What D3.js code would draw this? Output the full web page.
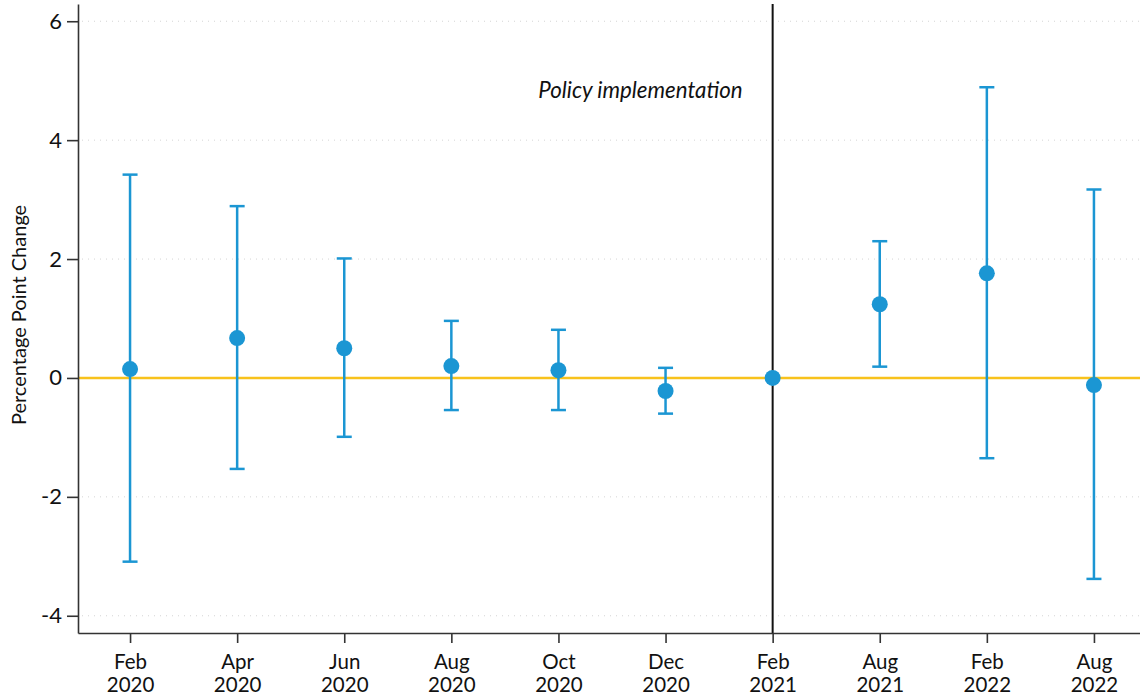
<!DOCTYPE html>
<html>
<head>
<meta charset="utf-8">
<script src="https://cdn.jsdelivr.net/npm/d3@7"></script>
<style>
  body { margin: 0; background: #fff; }
  svg text { font-family: Lato, "Open Sans", sans-serif; fill: #111; }
</style>
</head>
<body>
<div id="chart"></div>
<script>
(function () {
  // data
  const months = ["Feb", "Apr", "Jun", "Aug", "Oct", "Dec", "Feb", "Aug", "Feb", "Aug"];
  const years = ["2020", "2020", "2020", "2020", "2020", "2020", "2021", "2021", "2022", "2022"];
  const estimates = [0.15, 0.67, 0.50, 0.20, 0.13, -0.22, 0, 1.24, 1.76, -0.12];
  const upper = [3.42, 2.89, 2.01, 0.96, 0.81, 0.17, null, 2.30, 4.89, 3.17];
  const lower = [-3.09, -1.53, -0.99, -0.54, -0.54, -0.60, null, 0.19, -1.35, -3.38];
  const yTicks = [-4, -2, 0, 2, 4, 6];
  const policyIndex = 6;
  const policyLabel = "Policy implementation";

  const W = 1140, H = 698;
  const margin = {top: 4, right: 0, bottom: 65, left: 78};
  const blue = "#1b96d3";

  const svg = d3.select("#chart").append("svg")
    .attr("width", W)
    .attr("height", H);

  const x = d3.scaleLinear()
    .domain([-0.486, 9.43])
    .range([margin.left, W - margin.right]);

  const y = d3.scaleLinear()
    .domain([-4.29, 6.29])
    .range([H - margin.bottom, margin.top]);

  // grid
  svg.append("g").selectAll("line")
    .data(yTicks.filter(function (d) { return d !== 0; }))
    .join("line")
      .attr("x1", margin.left + 4)
      .attr("x2", W)
      .attr("y1", function (d) { return y(d); })
      .attr("y2", function (d) { return y(d); })
      .attr("stroke", "#d4d4d4")
      .attr("stroke-width", 1)
      .attr("stroke-dasharray", "1,5");

  // zero line
  svg.append("line")
    .attr("x1", margin.left).attr("x2", W)
    .attr("y1", y(0)).attr("y2", y(0))
    .attr("stroke", "#f8c21c")
    .attr("stroke-width", 2.5);

  // policy line
  svg.append("line")
    .attr("x1", x(policyIndex)).attr("x2", x(policyIndex))
    .attr("y1", y.range()[1]).attr("y2", y.range()[0])
    .attr("stroke", "#111")
    .attr("stroke-width", 2);

  svg.append("text")
    .attr("x", x(policyIndex) - 30)
    .attr("y", 98)
    .attr("text-anchor", "end")
    .attr("font-size", 22.3)
    .attr("font-style", "italic")
    .text(policyLabel);

  // axes
  const yAxis = svg.append("g")
    .attr("transform", "translate(" + margin.left + ",0)")
    .call(d3.axisLeft(y).tickValues(yTicks).tickSize(11).tickSizeOuter(0).tickPadding(5)
      .tickFormat(function (d) { return String(d); }));

  const xAxis = svg.append("g")
    .attr("transform", "translate(0," + (H - margin.bottom) + ")")
    .call(d3.axisBottom(x).tickValues(d3.range(months.length)).tickSize(10).tickSizeOuter(0).tickFormat(""));

  [yAxis, xAxis].forEach(function (g) {
    g.select(".domain").attr("stroke", "#333").attr("stroke-width", 1.6);
    g.selectAll(".tick line").attr("stroke", "#333").attr("stroke-width", 1.6);
  });
  yAxis.selectAll(".tick text")
    .attr("font-size", 22)
    .attr("font-family", "Lato, sans-serif")
    .attr("fill", "#111");

  xAxis.selectAll(".tick text").remove();
  const ticks = xAxis.selectAll(".tick");
  ticks.append("text")
    .attr("y", 36)
    .attr("text-anchor", "middle")
    .attr("font-size", 20.5)
    .attr("fill", "#111")
    .text(function (d) { return months[d]; });
  ticks.append("text")
    .attr("y", 59)
    .attr("text-anchor", "middle")
    .attr("font-size", 20.5)
    .attr("fill", "#111")
    .text(function (d) { return years[d]; });

  // y label
  svg.append("text")
    .attr("transform", "translate(26," + y(1.06) + ") rotate(-90)")
    .attr("text-anchor", "middle")
    .attr("font-size", 20)
    .text("Percentage Point Change");

  // error bars
  const idx = d3.range(months.length).filter(function (i) { return upper[i] !== null; });
  const bars = svg.append("g")
    .attr("stroke", blue)
    .attr("stroke-width", 2.5);

  bars.selectAll("line.v").data(idx).join("line")
    .attr("class", "v")
    .attr("x1", function (i) { return x(i); })
    .attr("x2", function (i) { return x(i); })
    .attr("y1", function (i) { return y(upper[i]); })
    .attr("y2", function (i) { return y(lower[i]); });

  ["top", "bot"].forEach(function (k) {
    bars.selectAll("line." + k).data(idx).join("line")
      .attr("class", k)
      .attr("x1", function (i) { return x(i) - 7.5; })
      .attr("x2", function (i) { return x(i) + 7.5; })
      .attr("y1", function (i) { return y(k === "top" ? upper[i] : lower[i]); })
      .attr("y2", function (i) { return y(k === "top" ? upper[i] : lower[i]); });
  });

  // points
  svg.append("g").selectAll("circle")
    .data(estimates)
    .join("circle")
      .attr("cx", function (d, i) { return x(i); })
      .attr("cy", function (d) { return y(d); })
      .attr("r", 8)
      .attr("fill", blue);
})();
</script>
</body>
</html>
